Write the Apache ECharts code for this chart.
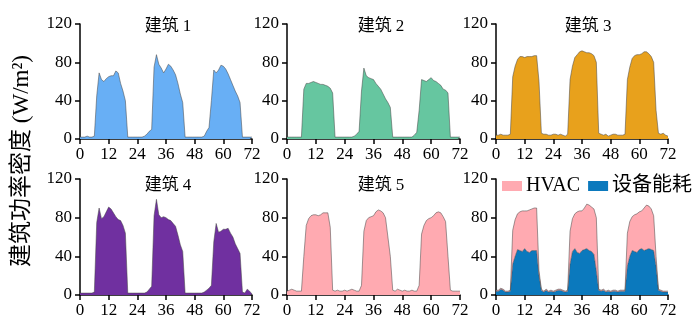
<!DOCTYPE html>
<html>
<head>
<meta charset="utf-8">
<script src="https://cdn.jsdelivr.net/npm/echarts@6/dist/echarts.min.js"></script>
<style>html,body{margin:0;padding:0;background:#fff}#c{width:694px;height:323px}</style>
</head>
<body>
<div id="c"></div>
<script>
// ---- data (hourly, 0..72 h) ----
const titles = ['建筑 1', '建筑 2', '建筑 3', '建筑 4', '建筑 5'];
const hours = Array.from({length: 73}, (_, i) => String(i)); // category labels 0..72
const xLabelStep = 12;
const yTicks = [0, 40, 80, 120];
const yName = '建筑功率密度 (W/m²)';
const legendNames = ['HVAC', '设备能耗'];

const b1 = [2,2,2,3,2,2,3,45,69,62,60,63,65,66,66,71,69,58,50,40,2,2,2,2,2,2,2,3,5,8,10,75,88,78,74,69,73,78,76,72,67,58,47,38,2,2,2,2,2,2,2,2,3,8,12,40,72,69,72,77,76,73,68,62,56,50,45,38,2,2,2,2,2];
const b2 = [2,2,2,2,2,2,2,52,58,58,59,60,59,58,57,57,56,55,53,48,2,2,2,2,2,2,2,2,3,5,8,50,74,66,64,63,62,58,55,52,47,42,38,33,2,2,2,2,2,2,2,2,2,4,7,30,62,61,60,62,64,61,60,58,56,52,51,48,2,2,2,2,2];
const b3 = [4,4,5,4,4,4,5,65,76,83,86,86,85,86,86,86,87,87,60,6,5,5,4,4,5,5,4,5,4,3,5,62,76,85,88,91,92,91,90,90,89,87,80,6,5,4,5,3,4,5,5,4,4,4,5,62,75,84,87,88,88,89,91,91,89,86,80,30,6,5,6,4,3];
const b4 = [2,2,2,2,2,2,3,75,90,79,81,86,91,89,85,81,78,77,72,64,2,2,2,2,2,2,2,2,3,6,9,82,99,83,80,81,80,78,77,74,71,62,52,45,2,2,2,2,2,2,2,2,3,5,7,10,55,74,65,66,68,68,69,64,60,53,48,43,3,2,6,4,1];
const b5 = [4,5,6,5,4,4,4,40,72,79,82,83,83,82,83,85,85,85,70,5,4,5,4,4,5,4,5,6,5,4,4,10,66,77,80,81,82,86,88,87,85,80,60,40,5,4,6,5,4,5,4,4,5,4,4,10,63,72,77,79,80,82,85,86,85,81,76,40,5,4,4,4,4];
const equip = [4,4,6,5,3,3,4,32,40,47,46,45,48,45,44,46,46,46,20,5,3,5,3,4,3,4,5,5,4,3,4,32,45,48,44,43,46,47,48,46,45,42,25,5,4,5,3,4,3,4,4,3,4,4,4,30,40,46,45,44,47,48,46,47,48,47,46,30,5,4,3,3,3];
const hvac = [1,1,1,1,1,1,1,35,38,37,40,42,39,42,44,43,44,44,5,1,1,1,1,1,1,1,1,1,1,1,1,34,34,36,42,44,41,43,46,47,46,47,55,1,1,1,1,1,1,1,1,1,1,1,1,34,36,35,38,40,39,39,44,46,44,42,36,10,1,1,1,1,1];

const colors = ['#68aff5', '#66c6a0', '#e8a11c', '#7030a0', '#ffaab1'];
const equipColor = '#0b79bd';

// ---- layout ----
const FONT = "'Liberation Serif', 'Noto Sans CJK SC', serif";
const grids = [
  {left: 80, top: 24, width: 172, height: 115},
  {left: 287, top: 24, width: 173, height: 115},
  {left: 496, top: 24, width: 172, height: 115},
  {left: 80, top: 179, width: 172, height: 116},
  {left: 287, top: 179, width: 173, height: 116},
  {left: 496, top: 179, width: 172, height: 116}
];
const titlePos = [[168, 27], [381, 27], [588, 27], [168, 186], [381, 186]];

const axisLineStyle = {color: '#000', width: 1.5};

const xAxes = grids.map((g, i) => ({
  gridIndex: i, type: 'category', data: hours, boundaryGap: false,
  axisLine: {show: true, onZero: false, lineStyle: axisLineStyle},
  axisTick: {show: true, length: 5, interval: xLabelStep - 1, lineStyle: axisLineStyle},
  axisLabel: {color: '#000', fontFamily: FONT, fontSize: 17, margin: 7, interval: xLabelStep - 1},
  splitLine: {show: false}
}));
const yAxes = grids.map((g, i) => ({
  gridIndex: i, type: 'value', min: yTicks[0], max: yTicks[yTicks.length - 1], interval: 40,
  axisLine: {show: true, onZero: false, lineStyle: axisLineStyle},
  axisTick: {show: true, length: 5, lineStyle: axisLineStyle},
  axisLabel: {color: '#000', fontFamily: FONT, fontSize: 17, margin: 8},
  splitLine: {show: false}
}));

const outline = {color: 'rgba(70,70,70,0.65)', width: 0.8};
const single = [b1, b2, b3, b4, b5];
const series = single.map((d, i) => ({
  type: 'line', name: titles[i], xAxisIndex: i, yAxisIndex: i,
  data: d, symbol: 'none', smooth: false,
  lineStyle: outline, areaStyle: {color: colors[i], opacity: 1},
  itemStyle: {color: colors[i]}, silent: true, animation: false
}));
series.push({
  type: 'line', name: legendNames[1], xAxisIndex: 5, yAxisIndex: 5, stack: 'p6',
  data: equip, symbol: 'none', lineStyle: outline,
  areaStyle: {color: equipColor, opacity: 1}, itemStyle: {color: equipColor}, animation: false
});
series.push({
  type: 'line', name: legendNames[0], xAxisIndex: 5, yAxisIndex: 5, stack: 'p6',
  data: hvac, symbol: 'none', lineStyle: outline,
  areaStyle: {color: colors[4], opacity: 1}, itemStyle: {color: colors[4]}, animation: false
});

const graphics = titles.map((t, i) => ({
  type: 'text', x: titlePos[i][0], y: titlePos[i][1], z: 10,
  style: {text: t, font: '17px ' + FONT, fill: '#000', align: 'center', verticalAlign: 'middle'}
}));
graphics.push({
  type: 'text', x: 22, y: 161, rotation: Math.PI / 2, z: 10,
  style: {text: yName, font: '23px ' + FONT, fill: '#000', align: 'center', verticalAlign: 'middle'}
});

const chart = echarts.init(document.getElementById('c'), null, {renderer: 'canvas'});
chart.setOption({
  animation: false,
  backgroundColor: '#fff',
  grid: grids,
  xAxis: xAxes,
  yAxis: yAxes,
  series: series,
  legend: {
    data: legendNames.map(n => ({name: n, icon: 'rect'})),
    left: 502, top: 176, width: 300,
    itemWidth: 20, itemHeight: 10, itemGap: 8,
    textStyle: {fontFamily: FONT, fontSize: 20, color: '#000', padding: [0, 0, 0, -1]},
    selectedMode: false, padding: 0
  },
  graphic: graphics
});
</script>
</body>
</html>
